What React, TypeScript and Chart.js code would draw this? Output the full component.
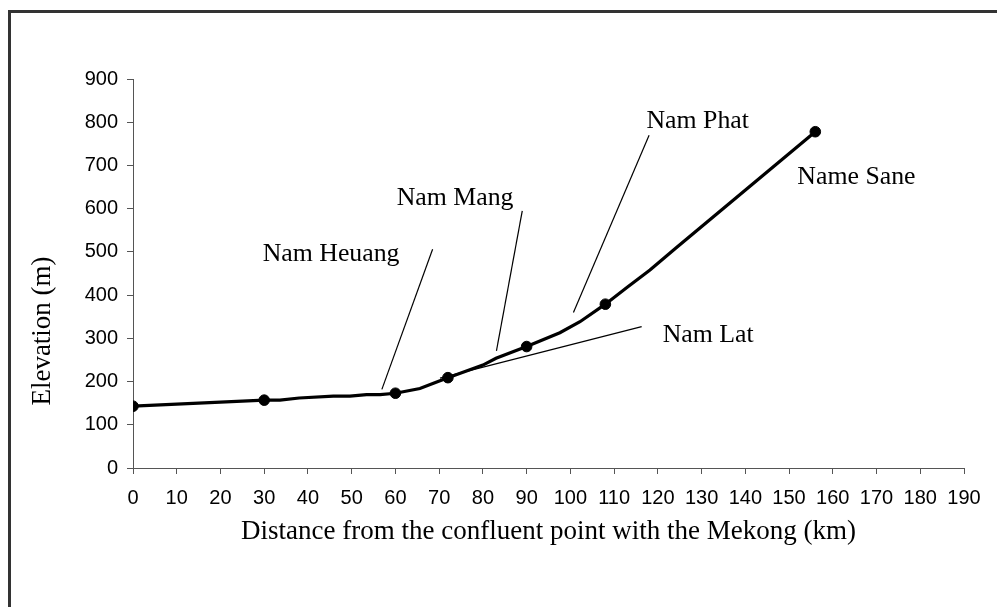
import React, { useEffect, useRef } from "react";
import { Chart, registerables } from "chart.js";

Chart.register(...registerables);

// River profile (km from confluence, elevation m)
const profileKm = [0, 30, 33.6, 38, 45.8, 49.6, 53.4, 56.5, 60, 65.6, 68.7, 72, 80, 83, 90, 97.6, 102.2, 108, 113, 118.2, 124, 156];
const profileElev = [143, 157, 157, 162, 166.5, 166.5, 169.6, 169.6, 173, 184, 196, 209, 238, 254, 281, 313, 338.5, 379, 418, 458, 508, 778];

// Marked stations
const stationKm = [0, 30, 60, 72, 90, 108, 156];
const stationElev = [143, 157, 173, 209, 281, 379, 778];

// Tributary leader lines
const leaderNames = ["Nam Heuang", "Nam Mang", "Nam Phat", "Nam Lat"];
const leaderKm = [[68.5, 56.9], [89.0, 83.1], [118.0, 100.7], [70.2, 116.3]];
const leaderElev = [[506, 182], [595, 271], [770, 360], [208, 327]];

// Tributary labels (anchor in data units)
const labelNames = ["Nam Heuang", "Nam Mang", "Nam Phat", "Name Sane", "Nam Lat"];
const labelKm = [29.65, 60.3, 117.4, 151.9, 121.1];
const labelElev = [479, 608.5, 787, 656, 292];

const xTitle = "Distance from the confluent point with the Mekong (km)";
const yTitle = "Elevation (m)";

const SERIF = "'Liberation Serif', 'Times New Roman', serif";
const SANS = "'Liberation Sans', Arial, sans-serif";

export default function App() {
  const ref = useRef<HTMLCanvasElement | null>(null);

  useEffect(() => {
    if (!ref.current) return;

    const framePlugin = {
      id: "frame",
      beforeDraw(chart: any) {
        const ctx = chart.ctx;
        ctx.save();
        ctx.fillStyle = "#ffffff";
        ctx.fillRect(0, 0, chart.width, chart.height);
        ctx.fillStyle = "#333333";
        ctx.fillRect(8, 10, chart.width - 8, 3);
        ctx.fillRect(8, 10, 3, chart.height - 10);
        ctx.restore();
      },
      afterDraw(chart: any) {
        const ctx = chart.ctx;
        const xs = chart.scales.x;
        const ys = chart.scales.y;
        ctx.save();
        ctx.fillStyle = "#000000";
        ctx.font = `25.8px ${SERIF}`;
        ctx.textAlign = "left";
        ctx.textBaseline = "alphabetic";
        labelNames.forEach((name, i) => {
          ctx.fillText(name, xs.getPixelForValue(labelKm[i]), ys.getPixelForValue(labelElev[i]));
        });
        // y axis title
        ctx.translate(43, 331);
        ctx.rotate(-Math.PI / 2);
        ctx.textAlign = "center";
        ctx.textBaseline = "middle";
        ctx.font = `27px ${SERIF}`;
        ctx.fillText(yTitle, 0, 0);
        ctx.restore();
      },
    };

    const leaderSets = leaderNames.map((name, i) => ({
      label: name,
      data: leaderKm[i].map((k, j) => ({ x: k, y: leaderElev[i][j] })),
      borderColor: "#000000",
      borderWidth: 1.2,
      pointRadius: 0,
      showLine: true,
      fill: false,
    }));

    const chart = new Chart(ref.current, {
      type: "scatter",
      data: {
        datasets: [
          ...leaderSets,
          {
            label: "Profile",
            data: profileKm.map((k, i) => ({ x: k, y: profileElev[i] })),
            borderColor: "#000000",
            borderWidth: 3.2,
            pointRadius: 0,
            showLine: true,
            tension: 0,
            fill: false,
          },
          {
            label: "Stations",
            data: stationKm.map((k, i) => ({ x: k, y: stationElev[i] })),
            backgroundColor: "#000000",
            borderColor: "#000000",
            pointRadius: 5.3,
            showLine: false,
          },
        ],
      },
      options: {
        responsive: false,
        animation: false,
        layout: { padding: { left: 0, top: 79, right: 33, bottom: 58.4 } },
        plugins: {
          legend: { display: false },
          tooltip: { enabled: false },
        },
        scales: {
          x: {
            type: "linear",
            min: 0,
            max: 190,
            afterFit: (s: any) => {
              s.height = 80.6;
            },
            ticks: {
              stepSize: 10,
              color: "#000000",
              padding: 12,
              font: { family: SANS, size: 20 },
              maxRotation: 0,
            },
            grid: {
              drawOnChartArea: false,
              drawTicks: true,
              tickLength: 6,
              color: "#555555",
            },
            border: { color: "#555555", width: 1 },
            title: {
              display: true,
              text: xTitle,
              color: "#000000",
              font: { family: SERIF, size: 27 },
              padding: 0,
            },
          },
          y: {
            type: "linear",
            min: 0,
            max: 900,
            afterFit: (s: any) => {
              s.width = 133;
            },
            ticks: {
              stepSize: 100,
              color: "#000000",
              padding: 9,
              font: { family: SANS, size: 20 },
            },
            grid: {
              drawOnChartArea: false,
              drawTicks: true,
              tickLength: 6,
              color: "#555555",
            },
            border: { color: "#555555", width: 1 },
          },
        },
      },
      plugins: [framePlugin],
    } as any);

    return () => chart.destroy();
  }, []);

  return (
    <div style={{ position: "absolute", left: 0, top: 0, width: 997, height: 607 }}>
      <canvas ref={ref} width={997} height={607} style={{ display: "block" }} />
    </div>
  );
}
